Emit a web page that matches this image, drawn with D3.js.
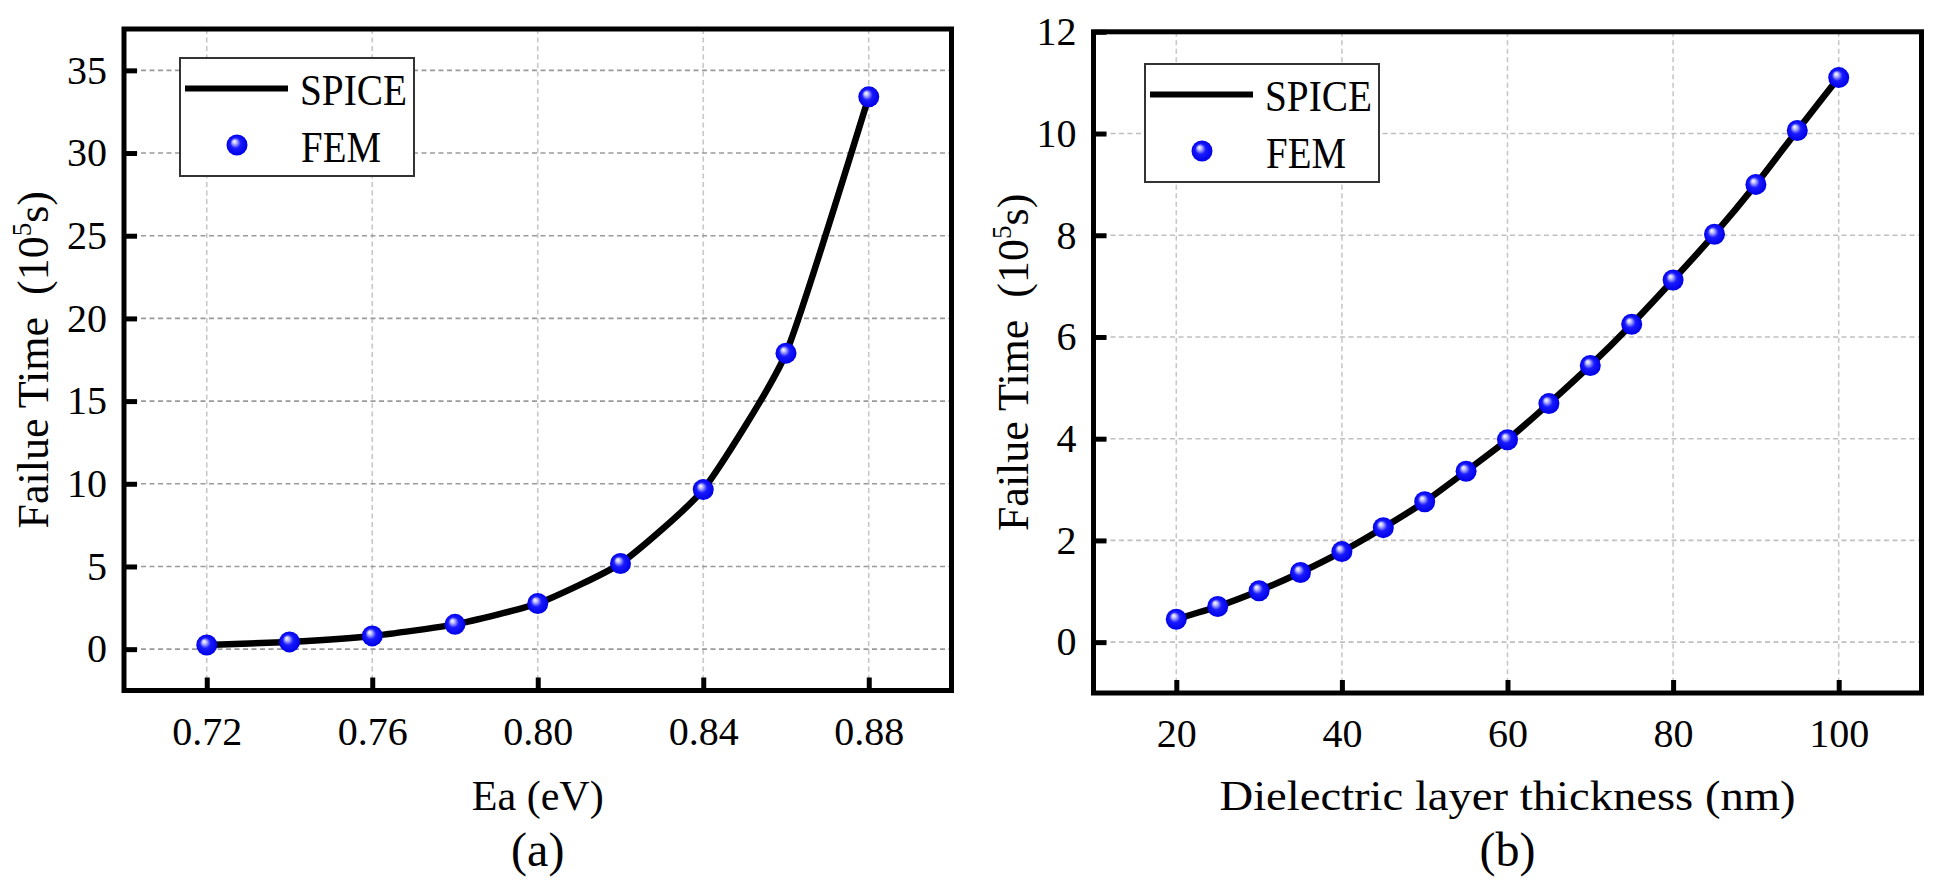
<!DOCTYPE html>
<html>
<head>
<meta charset="utf-8">
<script src="https://cdn.jsdelivr.net/npm/d3@7"></script>
<style>
  html, body { margin: 0; padding: 0; background: #fff; }
  svg { display: block; }
  text { font-family: "Liberation Serif", "Times New Roman", serif; fill: #000; }
</style>
</head>
<body>
<svg id="chart" width="1938" height="883"></svg>
<script>
// ---------- DATA ----------
const eaValues = [0.72, 0.74, 0.76, 0.78, 0.80, 0.82, 0.84, 0.86, 0.88];
const eaSpice  = [0.25, 0.44, 0.80, 1.50, 2.76, 5.18, 9.65, 17.9, 33.4];
const eaFem    = [0.25, 0.44, 0.80, 1.50, 2.76, 5.18, 9.65, 17.9, 33.4];
const eaTicks  = [0.72, 0.76, 0.80, 0.84, 0.88];
const eaYTicks = [0, 5, 10, 15, 20, 25, 30, 35];

const thickValues = [20, 25, 30, 35, 40, 45, 50, 55, 60, 65, 70, 75, 80, 85, 90, 95, 100];
const thickSpice  = [0.45, 0.70, 1.01, 1.37, 1.78, 2.25, 2.76, 3.36, 3.98, 4.69, 5.44, 6.25, 7.12, 8.02, 9.00, 10.06, 11.10];
const thickFem    = [0.45, 0.70, 1.01, 1.37, 1.78, 2.25, 2.76, 3.36, 3.98, 4.69, 5.44, 6.25, 7.12, 8.02, 9.00, 10.06, 11.10];
const thickTicks  = [20, 40, 60, 80, 100];
const thickYTicks = [0, 2, 4, 6, 8, 10, 12];

const legendLabels = ["SPICE", "FEM"];

// ---------- DRAW ----------
const svg = d3.select("#chart");
const defs = svg.append("defs");
const grad = defs.append("radialGradient").attr("id", "ball")
  .attr("cx", "0.5").attr("cy", "0.5").attr("r", "0.5")
  .attr("fx", "0.36").attr("fy", "0.32");
grad.append("stop").attr("offset", "0%").attr("stop-color", "#ffffff");
grad.append("stop").attr("offset", "18%").attr("stop-color", "#c4c4ff");
grad.append("stop").attr("offset", "50%").attr("stop-color", "#1a1aff");
grad.append("stop").attr("offset", "100%").attr("stop-color", "#0000e6");

function panel(cfg) {
  const g = svg.append("g");
  const x = d3.scaleLinear().domain(cfg.xDomain).range([cfg.left, cfg.right]);
  const y = d3.scaleLinear().domain(cfg.yDomain).range([cfg.bottom, cfg.top]);

  // grid
  g.append("g").selectAll("line").data(cfg.xTicks).join("line")
    .attr("x1", d => x(d)).attr("x2", d => x(d))
    .attr("y1", cfg.top).attr("y2", cfg.bottom)
    .attr("stroke", "#c8c8c8").attr("stroke-width", 1.6).attr("stroke-dasharray", "5,3.5");
  g.append("g").selectAll("line").data(cfg.yTicks.filter(d => y(d) > cfg.top + 3)).join("line")
    .attr("x1", cfg.left).attr("x2", cfg.right)
    .attr("y1", d => y(d)).attr("y2", d => y(d))
    .attr("stroke", cfg.hGridColor).attr("stroke-width", 1.6).attr("stroke-dasharray", "5,3.5");

  // axes (ticks inward)
  const xAxis = d3.axisBottom(x).tickValues(cfg.xTicks).tickFormat(cfg.xFormat)
    .tickSizeInner(-13).tickSizeOuter(0).tickPadding(26);
  const gx = g.append("g").attr("transform", `translate(0,${cfg.bottom})`).call(xAxis);
  gx.select(".domain").remove();
  gx.selectAll(".tick line").attr("stroke", "#000").attr("stroke-width", 5);
  gx.selectAll(".tick text").attr("font-size", 40).attr("font-family", "Liberation Serif").attr("fill", "#000");

  const yAxis = d3.axisLeft(y).tickValues(cfg.yTicks).tickFormat(d3.format("d"))
    .tickSizeInner(-13).tickSizeOuter(0).tickPadding(17);
  const gy = g.append("g").attr("transform", `translate(${cfg.left},0)`).call(yAxis);
  gy.select(".domain").remove();
  gy.selectAll(".tick line").attr("stroke", "#000").attr("stroke-width", 5);
  gy.selectAll(".tick text").attr("font-size", 40).attr("font-family", "Liberation Serif").attr("fill", "#000");

  // line
  const line = d3.line().x(d => x(d[0])).y(d => y(d[1])).curve(d3.curveCardinal.tension(0.5));
  g.append("path").datum(cfg.xs.map((v, i) => [v, cfg.spice[i]]))
    .attr("d", line).attr("fill", "none").attr("stroke", "#000").attr("stroke-width", 6.5)
    .attr("stroke-linejoin", "round");

  // points
  g.append("g").selectAll("circle").data(cfg.xs.map((v, i) => [v, cfg.fem[i]])).join("circle")
    .attr("cx", d => x(d[0])).attr("cy", d => y(d[1])).attr("r", 10.5)
    .attr("fill", "url(#ball)");

  // frame
  g.append("rect").attr("x", cfg.left).attr("y", cfg.top)
    .attr("width", cfg.right - cfg.left).attr("height", cfg.bottom - cfg.top)
    .attr("fill", "none").attr("stroke", "#000").attr("stroke-width", 5);

  // legend
  const L = cfg.legend;
  const lg = g.append("g").attr("transform", `translate(${L.x},${L.y})`);
  lg.append("rect").attr("x", 0).attr("y", 0).attr("width", 234).attr("height", 118)
    .attr("fill", "#fff").attr("stroke", "#333").attr("stroke-width", 2);
  lg.append("line").attr("x1", 5).attr("x2", 108).attr("y1", 30.5).attr("y2", 30.5)
    .attr("stroke", "#000").attr("stroke-width", 6);
  lg.append("circle").attr("cx", 57).attr("cy", 87).attr("r", 10.5).attr("fill", "url(#ball)");
  lg.append("text").attr("x", 120).attr("y", 47).attr("font-size", 44)
    .attr("textLength", 107).attr("lengthAdjust", "spacingAndGlyphs").text(legendLabels[0]);
  lg.append("text").attr("x", 121).attr("y", 104).attr("font-size", 44)
    .attr("textLength", 80).attr("lengthAdjust", "spacingAndGlyphs").text(legendLabels[1]);

  const cx = (cfg.left + cfg.right) / 2;
  // x title
  g.append("text").attr("x", cx).attr("y", 810).attr("text-anchor", "middle")
    .attr("font-size", 42).attr("textLength", cfg.xTitleLen).attr("lengthAdjust", "spacingAndGlyphs")
    .text(cfg.xTitle);
  g.append("text").attr("x", cx).attr("y", 866).attr("text-anchor", "middle")
    .attr("font-size", 48).text(cfg.label);

  // y title
  const cy = (cfg.top + cfg.bottom) / 2;
  const yt = g.append("text").attr("transform", `translate(${cfg.yTitleX},${cy}) rotate(-90)`)
    .attr("text-anchor", "middle").attr("font-size", 44);
  yt.append("tspan").text("Failue Time\u00a0\u00a0(10");
  yt.append("tspan").attr("font-size", 27).attr("dy", -17).text("5");
  yt.append("tspan").attr("dy", 17).text("s)");
}

panel({
  left: 124, right: 951.5, top: 29, bottom: 690.5,
  xDomain: [0.70, 0.90], yDomain: [-2.5, 37.5],
  xTicks: eaTicks, yTicks: eaYTicks, xFormat: d3.format(".2f"),
  xs: eaValues, spice: eaSpice, fem: eaFem,
  hGridColor: "#9a9a9a",
  legend: { x: 180, y: 58 },
  xTitle: "Ea (eV)", xTitleLen: 132, label: "(a)", yTitleX: 48
});

panel({
  left: 1093.5, right: 1921.5, top: 31.8, bottom: 693,
  xDomain: [10, 110], yDomain: [-1, 12],
  xTicks: thickTicks, yTicks: thickYTicks, xFormat: d3.format("d"),
  xs: thickValues, spice: thickSpice, fem: thickFem,
  hGridColor: "#c0c0c0",
  legend: { x: 1145, y: 64 },
  xTitle: "Dielectric layer thickness (nm)", xTitleLen: 576, label: "(b)", yTitleX: 1028
});
</script>
</body>
</html>
